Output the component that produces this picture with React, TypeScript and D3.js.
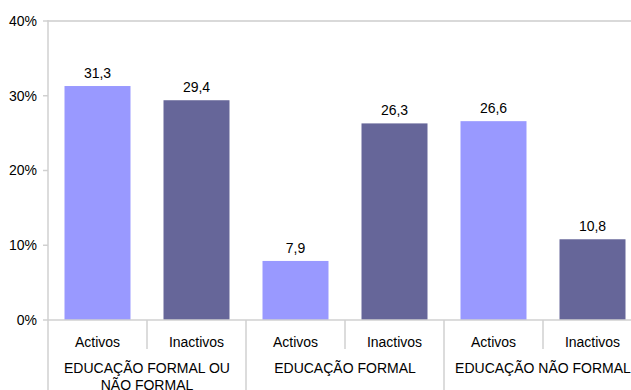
import React from "react";
import * as d3 from "d3";

const categories = ["Activos", "Inactivos", "Activos", "Inactivos", "Activos", "Inactivos"];
const values = [31.3, 29.4, 7.9, 26.3, 26.6, 10.8];
const valueLabels = ["31,3", "29,4", "7,9", "26,3", "26,6", "10,8"];
const groups = [["EDUCAÇÃO FORMAL OU", "NÃO FORMAL"], ["EDUCAÇÃO FORMAL"], ["EDUCAÇÃO NÃO FORMAL"]];
const yTicks = [0, 10, 20, 30, 40];
const barColors = ["#9999ff", "#666699"];

const W = 631;
const H = 390;
const left = 48;
const right = 642;
const top = 21;
const bottom = 320;
const font = "'Liberation Sans', Arial, sans-serif";
const axisColor = "#d0d0d0";

export default function App() {
  const idx = categories.map((_, i) => String(i));
  const x = d3.scaleBand().domain(idx).range([left, right]).paddingInner(1 / 3).paddingOuter(1 / 6);
  const y = d3.scaleLinear().domain([0, 40]).range([bottom, top]);
  const step = x.step();
  const groupSize = 2;

  return (
    <svg width={W} height={H} style={{ position: "absolute", left: 0, top: 0, background: "#fff" }} fontFamily={font}>
      {/* top border */}
      <line x1={left} x2={W} y1={y(40)} y2={y(40)} stroke="#d9d9d9" strokeWidth={2} />
      {/* bars */}
      {values.map((v, i) => (
        <rect key={"b" + i} x={x(String(i))} y={y(v)} width={x.bandwidth()} height={y(0) - y(v)} fill={barColors[i % 2]} />
      ))}
      {/* value labels */}
      {values.map((v, i) => (
        <text key={"v" + i} x={(x(String(i)) as number) + x.bandwidth() / 2} y={y(v) - 8} textAnchor="middle" fontSize={14} fill="#000">
          {valueLabels[i]}
        </text>
      ))}
      {/* y axis */}
      <line x1={left} x2={left} y1={y(40) - 1} y2={H} stroke={axisColor} strokeWidth={1.5} />
      <line x1={left} x2={W} y1={y(0)} y2={y(0)} stroke={axisColor} strokeWidth={1.5} />
      {yTicks.map((t) => (
        <g key={"t" + t}>
          <line x1={left - 5} x2={left} y1={y(t)} y2={y(t)} stroke={axisColor} strokeWidth={1.5} />
          <text x={37} y={y(t)} dy="0.35em" textAnchor="end" fontSize={14} fill="#000">
            {t + "%"}
          </text>
        </g>
      ))}
      {/* category separators */}
      {d3.range(1, categories.length + 1).map((k) => {
        const xx = left + k * step;
        const isGroup = k % groupSize === 0;
        return <line key={"s" + k} x1={xx} x2={xx} y1={y(0)} y2={isGroup ? H : 349} stroke={axisColor} strokeWidth={1.5} />;
      })}
      {/* category labels */}
      {categories.map((c, i) => (
        <text key={"c" + i} x={(x(String(i)) as number) + x.bandwidth() / 2} y={347} textAnchor="middle" fontSize={14} fill="#000">
          {c}
        </text>
      ))}
      {/* group labels */}
      {groups.map((lines, g) => {
        const cx = left + (g * groupSize + groupSize / 2) * step;
        return (
          <text key={"g" + g} x={cx} y={373} textAnchor="middle" fontSize={14} fill="#000">
            {lines.map((ln, j) => (
              <tspan key={j} x={cx} dy={j === 0 ? 0 : 16.5}>
                {ln}
              </tspan>
            ))}
          </text>
        );
      })}
    </svg>
  );
}
